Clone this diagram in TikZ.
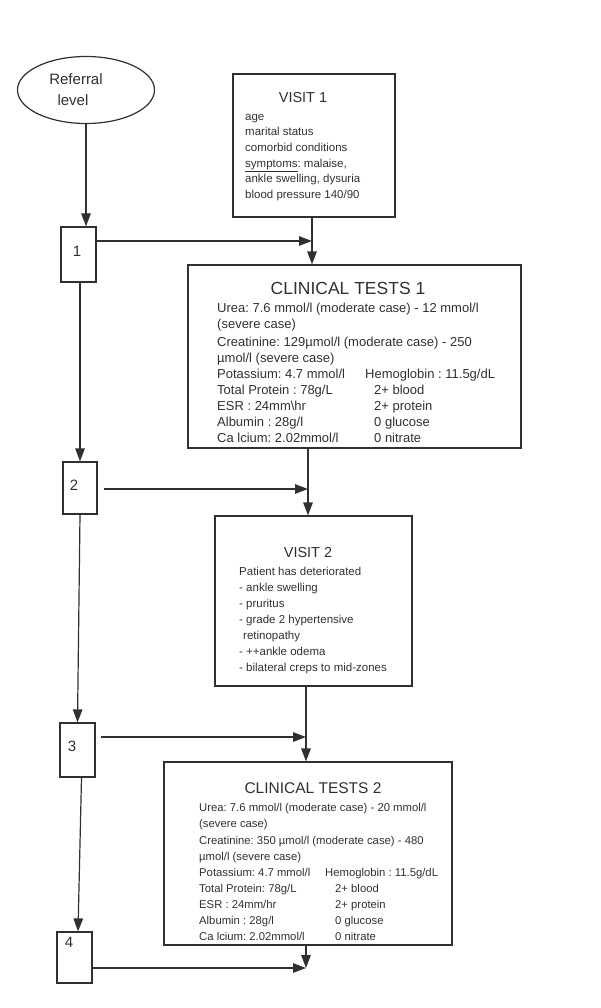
\documentclass[tikz,border=0pt]{standalone}
\usepackage{fontspec}
\setmainfont{Liberation Sans}
\usetikzlibrary{arrows.meta,shapes.geometric}
\definecolor{ink}{HTML}{303030}
\frenchspacing
\begin{document}
\begin{tikzpicture}[x=1pt,y=-1pt,
  every node/.style={text=ink},
  boxshape/.style={draw=ink,line width=1.2pt,rectangle,inner sep=0pt},
  numbox/.style={boxshape,minimum width=35pt},
  numtext/.style={inner sep=0pt,font=\fontsize{15}{18}\selectfont},
  titletext/.style={inner sep=0pt,anchor=base},
  bodytext/.style={inner sep=0pt,anchor=north west,align=left},
  arr/.style={draw=ink,line width=1.2pt,-{Triangle[length=13pt,width=9.5pt]}},
]
\useasboundingbox (0,0) rectangle (600,1008);

% referral ellipse
\node[ellipse,draw=ink,line width=1.2pt,minimum width=137pt,minimum height=67pt,inner sep=0pt,
  align=center,font=\fontsize{15}{21}\selectfont] (ref) at (86,90)
  {Referral\hspace*{20pt}\\level\hspace*{26pt}};

% numbered boxes
\node[numbox,minimum height=55pt] (b1) at (78.5,254.5) {};
\node[numtext] (n1) at (77,251) {1};
\node[numbox,minimum width=34pt,minimum height=52pt] (b2) at (80,488) {};
\node[numtext] (n2) at (74,485) {2};
\node[numbox,minimum height=54pt] (b3) at (77.5,750) {};
\node[numtext] (n3) at (72,746) {3};
\node[numbox,minimum height=51pt] (b4) at (74.5,957.5) {};
\node[numtext] (n4) at (69,942) {4};

% VISIT 1
\node[boxshape,minimum width=162pt,minimum height=143pt] (v1) at (314,145.5) {};
\node[titletext,font=\fontsize{14.5}{17}\selectfont] (v1t) at (303,103) {VISIT 1};
\node[bodytext,font=\fontsize{11.5}{15.6}\selectfont] (v1b) at (245,109.1)
  {\strut age\\
   marital status\\
   comorbid conditions\\
   \underline{symptoms}: malaise,\\
   ankle swelling, dysuria\\
   blood pressure 140/90};

% CLINICAL TESTS 1
\node[boxshape,minimum width=333pt,minimum height=183pt] (ct1) at (354.5,356.5) {};
\node[titletext,font=\fontsize{17.5}{20}\selectfont] (ct1t) at (348,294) {CLINICAL TESTS 1};
\node[bodytext,font=\fontsize{13}{16}\selectfont] (ct1b) at (217,300.8)
  {\strut Urea: 7.6 mmol/l (moderate case) - 12 mmol/l\\
   (severe case)\\[2pt]
   Creatinine: 129µmol/l (moderate case) - 250\\
   µmol/l (severe case)\\
   \makebox[148pt][l]{Potassium: 4.7 mmol/l}Hemoglobin : 11.5g/dL\\
   \makebox[157pt][l]{Total Protein : 78g/L}2+ blood\\
   \makebox[157pt][l]{ESR : 24mm\textbackslash hr}2+ protein\\
   \makebox[157pt][l]{Albumin : 28g/l}0 glucose\\
   \makebox[157pt][l]{Ca lcium: 2.02mmol/l}0 nitrate};

% VISIT 2
\node[boxshape,minimum width=197pt,minimum height=170pt] (v2) at (313.5,601) {};
\node[titletext,font=\fontsize{14.5}{17}\selectfont] (v2t) at (308,557) {VISIT 2};
\node[bodytext,font=\fontsize{11.5}{16}\selectfont] (v2b) at (239,563.8)
  {\strut Patient has deteriorated\\
   - ankle swelling\\
   - pruritus\\
   - grade 2 hypertensive\\
   \hspace*{4pt}retinopathy\\
   - ++ankle odema\\
   - bilateral creps to mid-zones};

% CLINICAL TESTS 2
\node[boxshape,minimum width=288pt,minimum height=183pt] (ct2) at (308,853.5) {};
\node[titletext,font=\fontsize{15.5}{18}\selectfont] (ct2t) at (313,793.5) {CLINICAL TESTS 2};
\node[bodytext,font=\fontsize{11.3}{16}\selectfont] (ct2b) at (199,799.8)
  {\strut Urea: 7.6 mmol/l (moderate case) - 20 mmol/l\\
   (severe case)\\[1.5pt]
   Creatinine: 350 µmol/l (moderate case) - 480\\
   µmol/l (severe case)\\
   \makebox[126pt][l]{Potassium: 4.7 mmol/l}Hemoglobin : 11.5g/dL\\
   \makebox[136pt][l]{Total Protein: 78g/L}2+ blood\\
   \makebox[136pt][l]{ESR : 24mm/hr}2+ protein\\
   \makebox[136pt][l]{Albumin : 28g/l}0 glucose\\
   \makebox[136pt][l]{Ca lcium: 2.02mmol/l}0 nitrate};

% junction points
\coordinate (j1) at (312,241);
\coordinate (j2) at (308,489);
\coordinate (j3) at (306,737);
\coordinate (j4) at (306,968);

% connectors
\draw[arr] (ref.south) -- (ref.south |- b1.north);
\draw[arr] (b1.east |- j1) -- (j1);
\draw[arr] (j1 |- v1.south) -- (j1 |- ct1.north);

\draw[arr] (b2.north |- b1.south) -- (b2.north);
\draw[arr,shorten <=6pt] (b2.east |- j2) -- (j2);
\draw[arr] (j2 |- ct1.south) -- (j2 |- v2.north);

\draw[arr] (b2.south) -- (b3.north);
\draw[arr,shorten <=5pt] (b3.east |- j3) -- (j3);
\draw[arr] (j3 |- v2.south) -- (j3 |- ct2.north);

\draw[arr] ([xshift=4pt]b3.south) -- ([xshift=3.5pt]b4.north);
\draw[arr] (j4 |- ct2.south) -- (j4);
\draw[arr] ([xshift=-2pt]b4.east |- j4) -- (j4);
\end{tikzpicture}
\end{document}
